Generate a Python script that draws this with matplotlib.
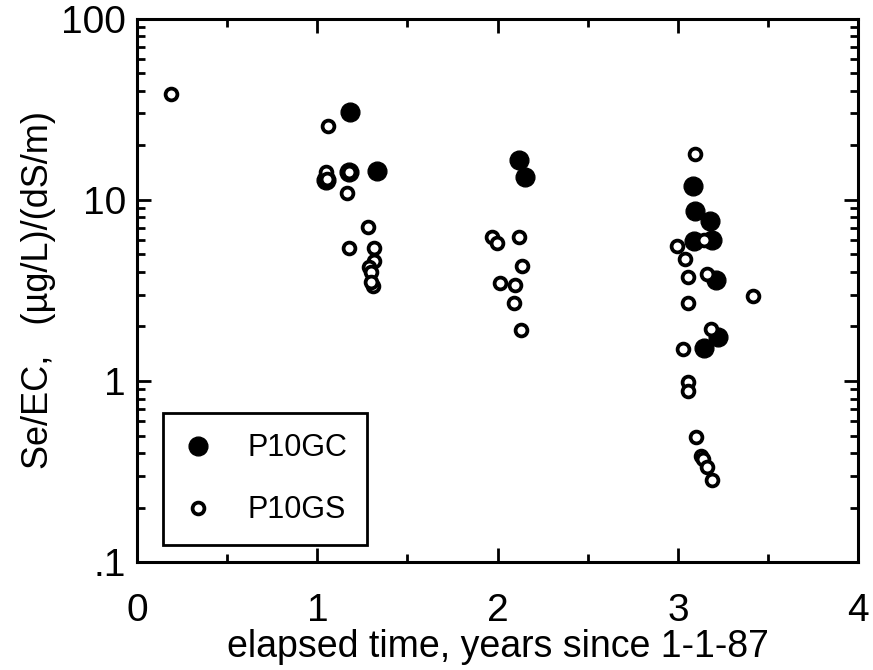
import matplotlib.pyplot as plt
from matplotlib.ticker import FixedLocator, LogLocator, NullFormatter

plt.rcParams['font.family'] = ['Liberation Sans', 'DejaVu Sans']

# P10GC (filled circles)
gc_time = [1.18, 1.05, 1.174, 1.33, 2.118, 2.15,
           3.082, 3.096, 3.178, 3.09, 3.19, 3.21, 3.22, 3.143]
gc_ratio = [30.4, 12.8, 14.2, 14.5, 16.5, 13.3,
            11.9, 8.7, 7.66, 5.96, 6.0, 3.61, 1.76, 1.52]

# P10GS (open circles)
gs_time = [0.187, 1.057, 1.048, 1.055, 1.174, 1.165, 1.28, 1.178, 1.317,
           1.313, 1.285, 1.30, 1.307, 1.30,
           1.967, 1.998, 2.118, 2.133, 2.013, 2.094, 2.09, 2.128,
           3.096, 3.143, 2.993, 3.04, 3.054, 3.161, 3.415, 3.054, 3.183,
           3.03, 3.054, 3.054, 3.10, 3.128, 3.14, 3.16, 3.187]
gs_ratio = [38.4, 25.7, 14.2, 13.0, 14.2, 10.9, 7.06, 5.43, 5.43,
            4.62, 4.28, 4.02, 3.36, 3.5,
            6.22, 5.77, 6.22, 4.32, 3.49, 3.39, 2.69, 1.91,
            17.9, 6.0, 5.57, 4.74, 3.74, 3.9, 2.96, 2.69, 1.93,
            1.50, 0.99, 0.88, 0.49, 0.385, 0.373, 0.336, 0.284]

fig = plt.figure(figsize=(8.73, 6.7), dpi=100)
ax = fig.add_axes([0.157, 0.161, 0.826, 0.811])

ax.plot(gc_time, gc_ratio, 'o', color='black', markersize=13.5,
        linestyle='none', label='P10GC')
ax.plot(gs_time, gs_ratio, 'o', markerfacecolor='white', markeredgecolor='black',
        markersize=8.5, markeredgewidth=2.7, linestyle='none', label='P10GS')

ax.set_yscale('log')
ax.set_xlim(0, 4)
ax.set_ylim(0.1, 100)

ax.xaxis.set_major_locator(FixedLocator([0, 1, 2, 3, 4]))
ax.xaxis.set_minor_locator(FixedLocator([0.5, 1.5, 2.5, 3.5]))
ax.set_xticklabels(['0', '1', '2', '3', '4'])
ax.yaxis.set_major_locator(FixedLocator([0.1, 1, 10, 100]))
ax.set_yticklabels(['.1', '1', '10', '100'])
ax.yaxis.set_minor_locator(LogLocator(base=10, subs=range(2, 10)))
ax.yaxis.set_minor_formatter(NullFormatter())

ax.tick_params(which='both', direction='in', top=True, right=True,
               labelsize=28, width=2)
ax.tick_params(which='major', length=10)
ax.tick_params(which='minor', length=6)
ax.tick_params(axis='x', which='major', pad=22)
ax.tick_params(axis='y', which='major', pad=8)
for s in ax.spines.values():
    s.set_linewidth(2.2)

ax.set_xlabel('elapsed time, years since 1-1-87', fontsize=27, labelpad=0)
ax.set_ylabel('Se/EC,   (\u00b5g/L)/(dS/m)', fontsize=26, labelpad=4)

leg = ax.legend(loc='lower left', bbox_to_anchor=(0.036, 0.031), fontsize=22,
                frameon=True, fancybox=False, edgecolor='black', framealpha=1,
                borderpad=0.65, labelspacing=1.05, handlelength=1.0,
                handletextpad=1.1, borderaxespad=0, markerscale=1.0)
leg.get_frame().set_linewidth(2)

fig.savefig('out.png', dpi=100)
